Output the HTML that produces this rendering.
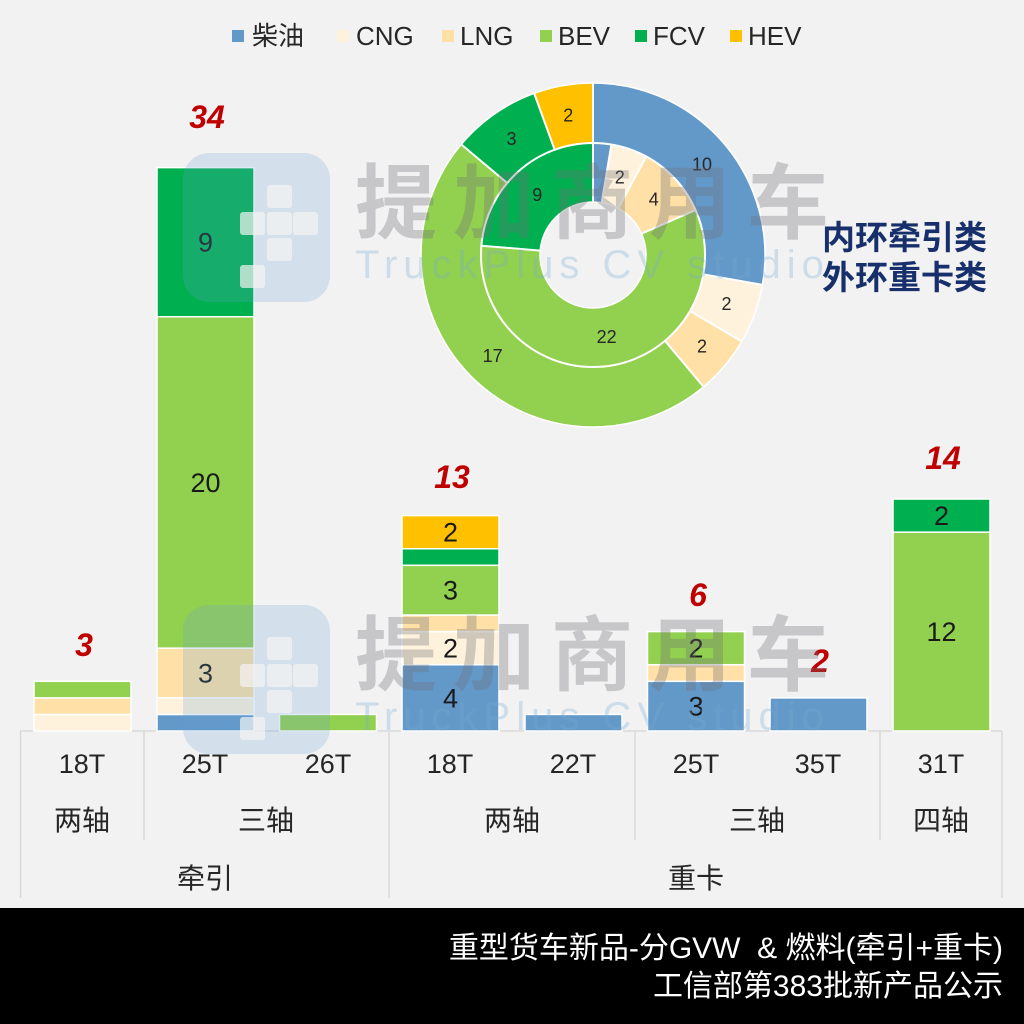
<!DOCTYPE html>
<html><head><meta charset="utf-8"><style>
html,body{margin:0;padding:0;background:#f2f2f2;}
svg{display:block;font-family:"Liberation Sans","Noto Sans CJK SC",sans-serif;}
</style></head><body>
<svg width="1024" height="1024" viewBox="0 0 1024 1024" xmlns="http://www.w3.org/2000/svg">
<rect x="0" y="0" width="1024" height="1024" fill="#f2f2f2"/>

<!-- Legend -->
<g font-size="26" fill="#262626">
<rect x="232" y="30" width="12" height="12" fill="#6399c9"/><text x="252" y="45">柴油</text>
<rect x="337" y="30" width="12" height="12" fill="#fff2dc"/><text x="356" y="45">CNG</text>
<rect x="442" y="30" width="12" height="12" fill="#ffe0a6"/><text x="460" y="45">LNG</text>
<rect x="540" y="30" width="12" height="12" fill="#92d050"/><text x="558" y="45">BEV</text>
<rect x="635" y="30" width="12" height="12" fill="#00b050"/><text x="653" y="45">FCV</text>
<rect x="730" y="30" width="12" height="12" fill="#ffc000"/><text x="748" y="45">HEV</text>
</g>

<!-- Axis lines -->
<g stroke="#d9d9d9" stroke-width="1.5" fill="none">
<line x1="20" y1="731" x2="1002" y2="731"/>
<line x1="20.5" y1="731" x2="20.5" y2="898"/>
<line x1="144" y1="731" x2="144" y2="840"/>
<line x1="389" y1="731" x2="389" y2="898"/>
<line x1="635" y1="731" x2="635" y2="840"/>
<line x1="880" y1="731" x2="880" y2="840"/>
<line x1="1002" y1="731" x2="1002" y2="898"/>
</g>

<!-- Bars -->
<g stroke="#ffffff" stroke-width="1.5">
<rect x="34" y="714.43" width="97" height="16.57" fill="#fff2dc"/>
<rect x="34" y="697.86" width="97" height="16.57" fill="#ffe0a6"/>
<rect x="34" y="681.29" width="97" height="16.57" fill="#92d050"/>
<rect x="157" y="714.43" width="97" height="16.57" fill="#6399c9"/>
<rect x="157" y="697.86" width="97" height="16.57" fill="#fff2dc"/>
<rect x="157" y="648.15" width="97" height="49.71" fill="#ffe0a6"/>
<rect x="157" y="316.75" width="97" height="331.4" fill="#92d050"/>
<rect x="157" y="167.62" width="97" height="149.13" fill="#00b050"/>
<rect x="279.5" y="714.43" width="97" height="16.57" fill="#92d050"/>
<rect x="402" y="664.72" width="97" height="66.28" fill="#6399c9"/>
<rect x="402" y="631.58" width="97" height="33.14" fill="#fff2dc"/>
<rect x="402" y="615.01" width="97" height="16.57" fill="#ffe0a6"/>
<rect x="402" y="565.3" width="97" height="49.71" fill="#92d050"/>
<rect x="402" y="548.73" width="97" height="16.57" fill="#00b050"/>
<rect x="402" y="515.59" width="97" height="33.14" fill="#ffc000"/>
<rect x="525" y="714.43" width="97" height="16.57" fill="#6399c9"/>
<rect x="647.5" y="681.29" width="97" height="49.71" fill="#6399c9"/>
<rect x="647.5" y="664.72" width="97" height="16.57" fill="#ffe0a6"/>
<rect x="647.5" y="631.58" width="97" height="33.14" fill="#92d050"/>
<rect x="770" y="697.86" width="97" height="33.14" fill="#6399c9"/>
<rect x="893" y="532.16" width="97" height="198.84" fill="#92d050"/>
<rect x="893" y="499.02" width="97" height="33.14" fill="#00b050"/>
</g>

<!-- Bar data labels -->
<g font-size="27" fill="#1a1a1a" text-anchor="middle">
<text x="205.5" y="682.5">3</text>
<text x="205.5" y="492">20</text>
<text x="205.5" y="251.5">9</text>
<text x="450.5" y="707.4">4</text>
<text x="450.5" y="657.7">2</text>
<text x="450.5" y="599.7">3</text>
<text x="450.5" y="541.7">2</text>
<text x="696" y="715.6">3</text>
<text x="696" y="657.7">2</text>
<text x="941.5" y="641.1">12</text>
<text x="941.5" y="525.1">2</text>
</g>

<!-- Totals -->
<g font-size="32" font-weight="bold" font-style="italic" fill="#c00000" text-anchor="middle">
<text x="84" y="656">3</text>
<text x="207" y="128">34</text>
<text x="452" y="488">13</text>
<text x="698" y="606">6</text>
<text x="820" y="672">2</text>
<text x="943" y="469">14</text>
</g>

<!-- Category labels -->
<g font-size="27" fill="#262626" text-anchor="middle">
<text x="82" y="773">18T</text>
<text x="205" y="773">25T</text>
<text x="328" y="773">26T</text>
<text x="450" y="773">18T</text>
<text x="573" y="773">22T</text>
<text x="696" y="773">25T</text>
<text x="818" y="773">35T</text>
<text x="941" y="773">31T</text>
</g>
<g font-size="28" fill="#262626" text-anchor="middle">
<text x="82" y="830">两轴</text>
<text x="266" y="830">三轴</text>
<text x="512" y="830">两轴</text>
<text x="757" y="830">三轴</text>
<text x="941" y="830">四轴</text>
<text x="205" y="888">牵引</text>
<text x="696" y="888">重卡</text>
</g>

<!-- Donut -->
<g fill="none" transform="rotate(-90 593 255)">
<circle cx="593" cy="255" r="142" stroke-width="60" stroke="#6399c9" stroke-dasharray="247.84 644.37" stroke-dashoffset="0"/>
<circle cx="593" cy="255" r="142" stroke-width="60" stroke="#fff2dc" stroke-dasharray="49.57 842.64" stroke-dashoffset="-247.84"/>
<circle cx="593" cy="255" r="142" stroke-width="60" stroke="#ffe0a6" stroke-dasharray="49.57 842.64" stroke-dashoffset="-297.40"/>
<circle cx="593" cy="255" r="142" stroke-width="60" stroke="#92d050" stroke-dasharray="421.32 470.89" stroke-dashoffset="-346.97"/>
<circle cx="593" cy="255" r="142" stroke-width="60" stroke="#00b050" stroke-dasharray="74.35 817.86" stroke-dashoffset="-768.29"/>
<circle cx="593" cy="255" r="142" stroke-width="60" stroke="#ffc000" stroke-dasharray="49.57 842.64" stroke-dashoffset="-842.65"/>

<circle cx="593" cy="255" r="82.5" stroke-width="59" stroke="#6399c9" stroke-dasharray="13.64 504.72" stroke-dashoffset="0"/>
<circle cx="593" cy="255" r="82.5" stroke-width="59" stroke="#fff2dc" stroke-dasharray="27.28 491.08" stroke-dashoffset="-13.64"/>
<circle cx="593" cy="255" r="82.5" stroke-width="59" stroke="#ffe0a6" stroke-dasharray="54.56 463.80" stroke-dashoffset="-40.92"/>
<circle cx="593" cy="255" r="82.5" stroke-width="59" stroke="#92d050" stroke-dasharray="300.10 218.26" stroke-dashoffset="-95.49"/>
<circle cx="593" cy="255" r="82.5" stroke-width="59" stroke="#00b050" stroke-dasharray="122.77 395.59" stroke-dashoffset="-395.59"/>
</g>
<g stroke="#ffffff" stroke-width="2" fill="none">
<circle cx="593" cy="255" r="112"/>
<circle cx="593" cy="255" r="172" stroke-width="1.5"/>
<circle cx="593" cy="255" r="53" stroke-width="1.5"/>
<line x1="593" y1="143" x2="593" y2="83"/>
<line x1="703.3" y1="274.4" x2="762.4" y2="284.9"/>
<line x1="690" y1="311" x2="741" y2="341"/>
<line x1="665" y1="340.8" x2="703.6" y2="386.8"/>
<line x1="507.2" y1="183" x2="461.2" y2="144.4"/>
<line x1="554.7" y1="149.8" x2="534.2" y2="93.4"/>
<line x1="593" y1="202" x2="593" y2="143"/>
<line x1="601.7" y1="202.7" x2="611.4" y2="144.5"/>
<line x1="618.2" y1="208.4" x2="646.3" y2="156.5"/>
<line x1="641.5" y1="233.7" x2="695.6" y2="210"/>
<line x1="540.2" y1="250.6" x2="481.4" y2="245.7"/>
</g>
<g font-size="18" fill="#262626" text-anchor="middle">
<text x="702" y="170.7">10</text>
<text x="726.5" y="310">2</text>
<text x="702" y="352.5">2</text>
<text x="492.6" y="362">17</text>
<text x="511.5" y="145">3</text>
<text x="568.3" y="121.7">2</text>
<text x="619.8" y="183.5">2</text>
<text x="653.7" y="205.7">4</text>
<text x="606.6" y="343">22</text>
<text x="537.2" y="200.8">9</text>
</g>

<!-- Ring annotation -->
<g font-size="33" font-weight="bold" fill="#17306b">
<text x="822" y="249">内环牵引类</text>
<text x="822" y="289">外环重卡类</text>
</g>

<!-- Watermarks -->
<g>
<rect x="183" y="153" width="147" height="149" rx="26" fill="rgb(100,160,210)" opacity="0.22"/>
<g fill="#f4f4f4" opacity="0.7">
<rect x="267" y="185" width="25" height="23" rx="3"/>
<rect x="240" y="212" width="25" height="23" rx="3"/>
<rect x="267" y="212" width="25" height="23" rx="3"/>
<rect x="293" y="212" width="25" height="23" rx="3"/>
<rect x="267" y="238" width="25" height="23" rx="3"/>
<rect x="240" y="265" width="25" height="23" rx="3"/>
</g>
<text x="355" y="232" font-size="82" font-weight="bold" letter-spacing="16" fill="#707078" opacity="0.32">提加商用车</text>
<text x="355" y="278" font-size="40" letter-spacing="6" fill="rgb(120,170,210)" opacity="0.3">TruckPlus CV studio</text>

<rect x="183" y="605" width="147" height="149" rx="26" fill="rgb(100,160,210)" opacity="0.22"/>
<g fill="#f4f4f4" opacity="0.7">
<rect x="267" y="637" width="25" height="23" rx="3"/>
<rect x="240" y="664" width="25" height="23" rx="3"/>
<rect x="267" y="664" width="25" height="23" rx="3"/>
<rect x="293" y="664" width="25" height="23" rx="3"/>
<rect x="267" y="690" width="25" height="23" rx="3"/>
<rect x="240" y="717" width="25" height="23" rx="3"/>
</g>
<text x="355" y="684" font-size="82" font-weight="bold" letter-spacing="16" fill="#707078" opacity="0.32">提加商用车</text>
<text x="355" y="730" font-size="40" letter-spacing="6" fill="rgb(120,170,210)" opacity="0.3">TruckPlus CV studio</text>
</g>

<!-- Bottom band -->
<rect x="0" y="908" width="1024" height="116" fill="#000000"/>
<g font-size="30" fill="#ffffff" text-anchor="end">
<text x="1003" y="958" xml:space="preserve">重型货车新品-分GVW  &amp; 燃料(牵引+重卡)</text>
<text x="1003" y="996">工信部第383批新产品公示</text>
</g>
</svg>
</body></html>
